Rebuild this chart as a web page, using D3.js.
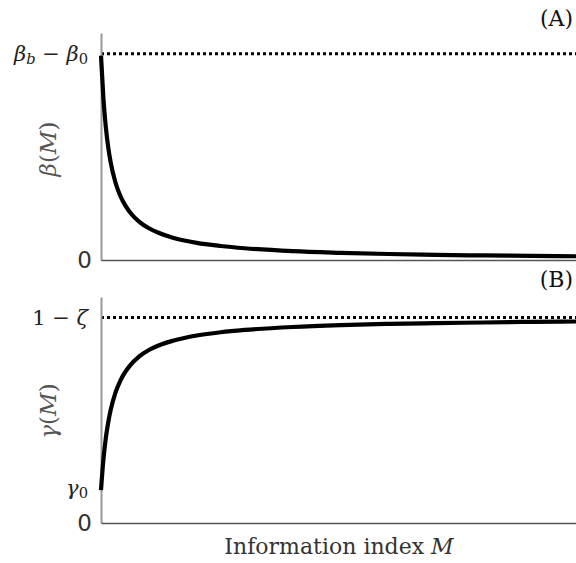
<!DOCTYPE html>
<html><head><meta charset="utf-8">
<script src="https://cdn.jsdelivr.net/npm/d3@7"></script>
<style>body{margin:0;background:#fff}svg{display:block}</style>
</head><body><div id="c"></div>
<script>
const M = [0,0.5,1,1.5,2,3,4,5,6,8,10,12,15,20,25,30,40,50,60,70,80,90,100];
const betaVals = [0.99,0.784,0.645,0.548,0.476,0.377,0.3125,0.267,0.233,0.185,0.154,0.132,0.108,0.083,0.068,0.057,0.043,0.035,0.029,0.025,0.022,0.020,0.018];
const gammaVals = [0.16,0.309,0.413,0.489,0.548,0.633,0.691,0.733,0.765,0.811,0.842,0.864,0.887,0.9125,0.9285,0.9396,0.954,0.963,0.969,0.973,0.976,0.979,0.981];
const betaMax = 1;   // beta_b - beta_0
const gammaMax = 1;  // 1 - zeta
const gamma0 = 0.16;

const W = 576, H = 563;
const svg = d3.select("#c").append("svg").attr("width", W).attr("height", H);
const x = d3.scaleLinear().domain([0,100]).range([101,580]);
const yA = d3.scaleLinear().domain([0,1.1]).range([260,33]);
const yB = d3.scaleLinear().domain([0,1.1]).range([523,297]);
const serif = "'DejaVu Serif','Liberation Serif',serif";

function panel(y, vals, refVal) {
  const g = svg.append("g");
  g.append("line").attr("x1", x(0)).attr("x2", W).attr("y1", y(refVal)).attr("y2", y(refVal))
    .attr("stroke","#000").attr("stroke-width",3).attr("stroke-dasharray","3,3");
  g.append("g").attr("transform",`translate(${x(0)},0)`)
    .call(d3.axisLeft(y).tickValues([]).tickSizeOuter(0))
    .call(s => s.select(".domain").attr("stroke","#999").attr("stroke-width",2));
  g.append("g").attr("transform",`translate(0,${y(0)})`)
    .call(d3.axisBottom(x).tickValues([]).tickSizeOuter(0))
    .call(s => s.select(".domain").attr("stroke","#555").attr("stroke-width",1.6));
  g.append("path").datum(M.map((m,i)=>[m, vals[i]]))
    .attr("fill","none").attr("stroke","#000").attr("stroke-width",4.2)
    .attr("d", d3.line().x(d=>x(d[0])).y(d=>y(d[1])).curve(d3.curveMonotoneX));
  g.append("text").attr("x",92).attr("y",y(0)).attr("dy","0.36em").attr("text-anchor","end")
    .attr("font-family","'DejaVu Sans',sans-serif").attr("font-size",23).attr("fill","#333").text("0");
  return g;
}

const gA = panel(yA, betaVals, betaMax);
const gB = panel(yB, gammaVals, gammaMax);

function mathText(g, xx, yy, parts, size) {
  const t = g.append("text").attr("x",xx).attr("y",yy).attr("text-anchor","end")
    .attr("font-family",serif).attr("font-size",size).attr("fill","#222");
  parts.forEach(p => {
    const ts = t.append("tspan").text(p.t);
    if (p.i) ts.attr("font-style","italic");
    if (p.sub) ts.attr("font-size", size*0.7).attr("baseline-shift","-22%");
  });
  return t;
}
mathText(gA, 88, yA(betaMax)+7, [{t:"β",i:1},{t:"b",i:1,sub:1},{t:" − "},{t:"β",i:1},{t:"0",sub:1}], 21);
mathText(gB, 88, yB(gammaMax)+7, [{t:"1 − "},{t:"ζ",i:1}], 21);
mathText(gB, 88, yB(gamma0)+5, [{t:"γ",i:1},{t:"0",sub:1}], 21);

function ylab(cy, sym) {
  const t = svg.append("text").attr("transform",`translate(56,${cy}) rotate(-90)`)
    .attr("text-anchor","middle").attr("font-family",serif).attr("font-size",23).attr("fill","#555");
  t.append("tspan").attr("font-style","italic").text(sym);
  t.append("tspan").text("(");
  t.append("tspan").attr("font-style","italic").text("M");
  t.append("tspan").text(")");
}
ylab(149, "β");
ylab(411, "γ");

svg.append("text").attr("x",573).attr("y",26).attr("text-anchor","end")
  .attr("font-family",serif).attr("font-size",22).attr("fill","#111").text("(A)");
svg.append("text").attr("x",573).attr("y",287).attr("text-anchor","end")
  .attr("font-family",serif).attr("font-size",22).attr("fill","#111").text("(B)");

const xl = svg.append("text").attr("x",339).attr("y",554).attr("text-anchor","middle")
  .attr("font-family",serif).attr("font-size",22).attr("fill","#333");
xl.append("tspan").text("Information index ");
xl.append("tspan").attr("font-style","italic").text("M");
</script></body></html>
